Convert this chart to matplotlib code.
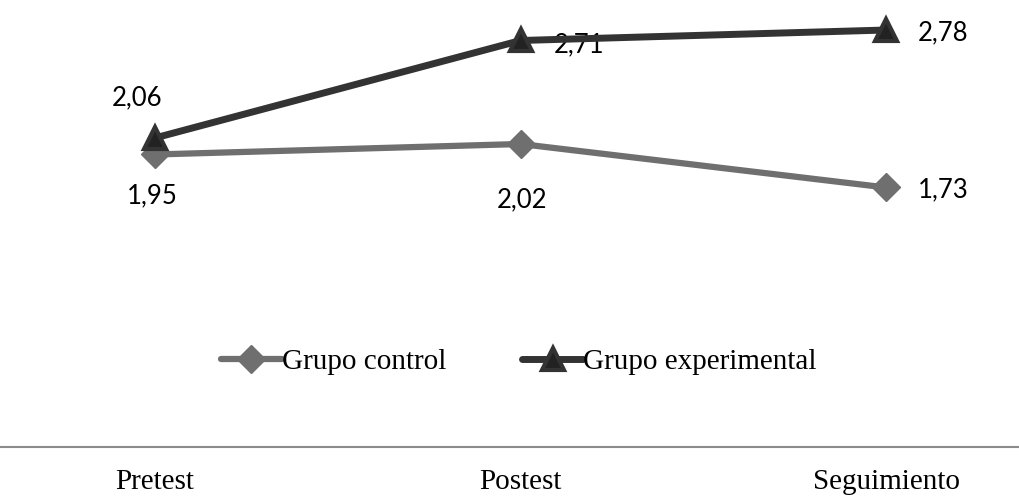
import matplotlib
matplotlib.use("Agg")
import matplotlib.pyplot as plt

# --- data ---
momentos = ["Pretest", "Postest", "Seguimiento"]
grupo_control = [1.95, 2.02, 1.73]
grupo_experimental = [2.06, 2.71, 2.78]

def fmt(v):
    return f"{v:.2f}".replace(".", ",")

fig = plt.figure(figsize=(10.19, 4.98), dpi=100)
# category axis is wider than the visible picture (chart was cropped)
ax = fig.add_axes([-28 / 1019, 51 / 498, 1097 / 1019, 447 / 498])

x = list(range(len(momentos)))
ax.plot(x, grupo_control, color="#6f6f6f", lw=4.5, marker="D", ms=14,
        mfc="#6f6f6f", mec="#6f6f6f", solid_capstyle="round",
        label="Grupo control", zorder=3)
ax.plot(x, grupo_experimental, color="#333333", lw=5, marker="^", ms=16,
        mfc="#222222", mec="#333333", mew=3, solid_capstyle="round",
        label="Grupo experimental", zorder=4)

ax.set_xlim(-0.5, 2.5)
ax.set_ylim(0, 2.98)

lab_font = dict(family="Lato", fontsize=18.5, color="black")
# data labels, offsets in points
ctl_off = [(-2, -30), (1, -40), (41, -2)]
exp_off = [(-13, 29), (42, -3), (41, -2)]
for i, v in enumerate(grupo_control):
    ax.annotate(fmt(v), (x[i], v), xytext=ctl_off[i], textcoords="offset points",
                ha="center", va="center", **lab_font)
for i, v in enumerate(grupo_experimental):
    ax.annotate(fmt(v), (x[i], v), xytext=exp_off[i], textcoords="offset points",
                ha="center", va="center", **lab_font)

for s in ["top", "left", "right"]:
    ax.spines[s].set_visible(False)
ax.spines["bottom"].set_color("#8c8c8c")
ax.spines["bottom"].set_linewidth(1.5)
ax.set_yticks([])
ax.set_xticks(x)
ax.set_xticklabels(momentos, family="Liberation Serif", fontsize=21)
ax.tick_params(axis="x", length=0, pad=16)

leg = fig.legend(loc="center", bbox_to_anchor=(0.509, 1 - 362 / 498), ncol=2,
                 frameon=False, prop=dict(family="Liberation Serif", size=21),
                 handlelength=2.1, handletextpad=0.0, columnspacing=2.6)

fig.savefig("out.png", dpi=100)
